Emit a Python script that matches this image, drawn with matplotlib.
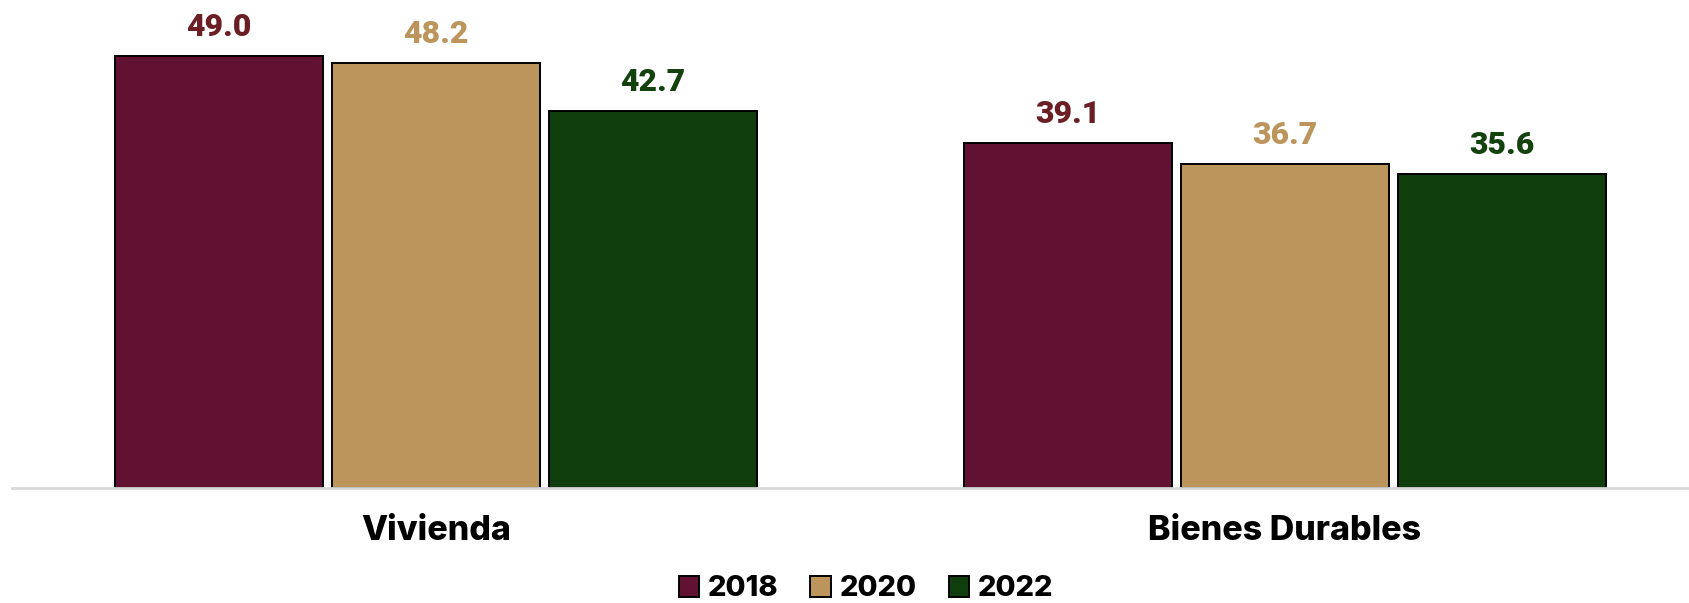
import numpy as np
import matplotlib.pyplot as plt

categories = ["Vivienda", "Bienes Durables"]
years = ["2018", "2020", "2022"]
v2018 = [49.0, 39.1]
v2020 = [48.2, 36.7]
v2022 = [42.7, 35.6]

bar_colors = ["#611232", "#BC955C", "#0F3D0B"]
label_colors = ["#6B1E24", "#BC955C", "#13420F"]

W, H = 1689, 603
fig = plt.figure(figsize=(W / 100, H / 100), dpi=100)
base_y = 487.5
ax = fig.add_axes([12 / W, (H - base_y) / H, 1 - 12 / W, base_y / H])

x = np.arange(len(categories))
width = 0.245
pitch = 0.2556
series = [v2018, v2020, v2022]
for i, (vals, yr) in enumerate(zip(series, years)):
    pos = x + (i - 1) * pitch
    ax.bar(pos, vals, width, color=bar_colors[i], edgecolor="black",
           linewidth=1.4, label=yr, zorder=2)
    for px, v in zip(pos, vals):
        ax.annotate(f"{v:.1f}", (px, v), xytext=(0, 21), textcoords="offset points",
                    ha="center", va="center", fontsize=23, fontweight="black",
                    color=label_colors[i], family="Roboto")

ax.set_xlim(-0.4994, 1.476)
ax.set_ylim(0, base_y / 8.81)
for s in ["top", "right", "left"]:
    ax.spines[s].set_visible(False)
ax.spines["bottom"].set_color("#D9D9D9")
ax.spines["bottom"].set_linewidth(2)
ax.set_yticks([])
ax.set_xticks(x)
ax.set_xticklabels(categories, fontsize=24.5, fontweight="heavy", family="Inter")
ax.tick_params(axis="x", length=0, pad=20)

leg = fig.legend(loc="center", bbox_to_anchor=(866 / W, 1 - 589 / H), ncol=3, frameon=False,
                 prop={"family": "Inter", "weight": "heavy", "size": 21},
                 handlelength=0.7, handleheight=0.7, handletextpad=0.3, columnspacing=1.1)

fig.savefig("out.png", dpi=100)
